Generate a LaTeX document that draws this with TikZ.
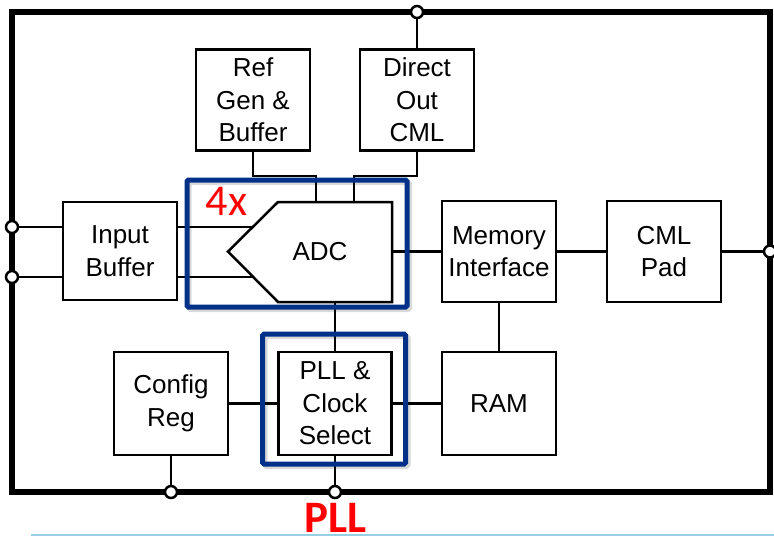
\documentclass[tikz,border=0pt]{standalone}
\usepackage{fontspec}
\setmainfont{Liberation Sans}
\newfontfamily\calib{Carlito}
\definecolor{navy}{RGB}{0,48,135}
\definecolor{lblue}{RGB}{150,208,228}
\begin{document}
\begin{tikzpicture}[x=1pt,y=-1pt,
 blk/.style={draw, line width=2.5pt, minimum width=114pt, minimum height=101pt, inner sep=0pt, align=center, font=\fontsize{26}{32.5}\selectfont},
 wire/.style={line width=2.5pt},
 port/.style={circle, draw, fill=white, line width=2.5pt, minimum size=12pt, inner sep=0pt},
 hl/.style={draw=navy, line width=5pt, rounded corners=1.5pt},
 hlshade/.style={draw=black, opacity=0.15, line width=5pt, rounded corners=1.5pt},
 redlabel/.style={text=red, inner sep=0pt}]
\useasboundingbox (0,0) rectangle (774,536);
% frame
\draw[line width=5.5pt] (12,12) rectangle (770,492);
% ports
\node[port] (pt) at (417,12) {};
\node[port] (pl1) at (12,227) {};
\node[port] (pl2) at (12,277) {};
\node[port] (pr) at (770,251.5) {};
\node[port] (pb1) at (171,492) {};
\node[port] (pb2) at (335,492) {};
% blocks
\node[blk] (ref) at (253,100) {Ref\\Gen \&\\Buffer};
\node[blk] (dout) at (417,100) {Direct\\Out\\CML};
\node[blk, minimum height=98pt] (inb) at (120,251) {Input\\Buffer};
\node[blk] (mem) at (499,251.5) {Memory\\Interface};
\node[blk] (cml) at (664,251.5) {CML\\Pad};
\node[blk, minimum height=103pt] (cfg) at (171,403.5) {Config\\Reg};
\node[blk, minimum width=113pt, minimum height=103pt] (pll) at (335,403.5) {PLL \&\\Clock\\Select};
\node[blk, minimum height=103pt] (ram) at (499,403.5) {RAM};
% ADC
\draw[wire] (228,251.5) -- (278,202) -- (392,202) -- (392,302) -- (278,302) -- cycle;
\node[font=\fontsize{26}{32.5}\selectfont] (adc) at (320,251.5) {ADC};
\coordinate (a1) at (252.5,227);
\coordinate (a2) at (253.5,277);
\coordinate (at1) at (316,202);
\coordinate (at2) at (354,202);
\coordinate (aout) at (392,251.5);
\coordinate (abot) at (335,302);
% wires
\draw[wire] (pl1) -- (pl1 -| inb.west);
\draw[wire] (pl1 -| inb.east) -- (a1);
\draw[wire] (pl2) -- (pl2 -| inb.west);
\draw[wire] (pl2 -| inb.east) -- (a2);
\draw[wire] (ref.south) -- ++(0,24) -| (at1);
\draw[wire] (dout.south) -- ++(0,24) -| (at2);
\draw[wire] (dout.north) -- (pt);
\draw[wire] (aout) -- (mem.west);
\draw[wire] (mem.east) -- (cml.west);
\draw[wire] (cml.east) -- (pr);
\draw[wire] (abot) -- (pll.north);
\draw[wire] (mem.south) -- (ram.north);
\draw[wire] (cfg.east) -- (pll.west);
\draw[wire] (pll.east) -- (ram.west);
\draw[wire] (cfg.south) -- (pb1);
\draw[wire] (pll.south) -- (pb2);
% highlight boxes
\draw[hlshade] (189,182.5) rectangle (409.5,309.5);
\draw[hl] (187,180) rectangle (407,307);
\draw[hlshade] (265,336.5) rectangle (408,466.5);
\draw[hl] (262.6,334) rectangle (405.7,464);
% bottom rule
\coordinate (rl) at (30.6,535);
\coordinate (rr) at (774,535);
\draw[lblue, line width=2pt] (rl) -- (rr);
% labels
\node[redlabel, font=\calib\fontsize{44}{44}\selectfont, anchor=base] (fx) at (226.5,215) {4x};
\node[redlabel, font=\calib\bfseries\fontsize{45}{45}\selectfont, anchor=base] (plllab) at (335.5,532) {PLL};
\end{tikzpicture}
\end{document}
